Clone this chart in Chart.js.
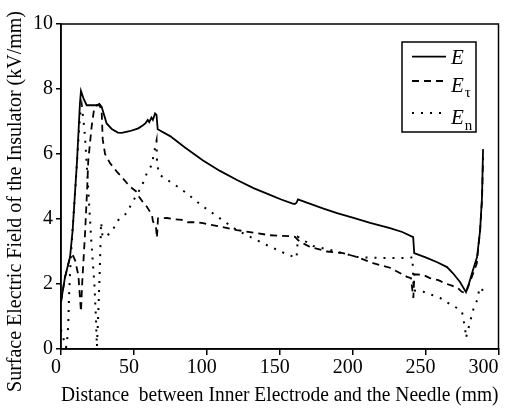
<!DOCTYPE html>
<html>
<head>
<meta charset="utf-8">
<script src="https://cdn.jsdelivr.net/npm/chart.js@4/dist/chart.umd.min.js"></script>
<style>
  html, body { margin: 0; padding: 0; background: #fff; }
  #wrap { width: 508px; height: 411px; position: relative; }
</style>
</head>
<body>
<div id="wrap"><canvas id="c"></canvas></div>
<script>
// ---- data ----
const seriesSymbols = ['E', 'E', 'E'];
const seriesSubs = ['', '\u03c4', 'n'];

const eX = [0, 2.7, 6.2, 8, 11, 13, 13.7, 15.5, 17.6, 21, 24.5, 26.3, 27.9, 31.3, 34.8, 39, 41.6, 47, 53, 56, 58, 59.5, 60.5, 62, 63, 64.5, 65.5, 66.3, 74.8, 85, 97.4, 109, 120.7, 132, 143.3, 151, 158.4, 160.3, 161.5, 162.5, 170, 180, 189.3, 200, 212, 225.6, 234, 241.5, 242.2, 244, 250, 258, 264.7, 268.8, 273.6, 277.7, 280, 282.5, 285.3, 287.4, 288.7, 289.4];
const eY = [1.45, 2.2, 2.83, 3.66, 5.8, 7.57, 7.94, 7.7, 7.5, 7.5, 7.5, 7.54, 7.45, 6.94, 6.77, 6.66, 6.65, 6.7, 6.79, 6.88, 6.95, 7.05, 6.98, 7.12, 7.05, 7.25, 7.2, 6.76, 6.55, 6.2, 5.8, 5.48, 5.2, 4.95, 4.74, 4.6, 4.48, 4.46, 4.5, 4.6, 4.48, 4.32, 4.18, 4.04, 3.88, 3.72, 3.6, 3.44, 2.95, 2.92, 2.82, 2.67, 2.52, 2.33, 2.06, 1.75, 2.05, 2.43, 2.83, 3.66, 4.68, 6.15];

const tX = [0, 2.7, 6.2, 8.4, 10, 10.8, 11.9, 12.3, 13.7, 14.5, 16.5, 18, 18.7, 21, 22.6, 24.5, 26.5, 27.9, 28.6, 30.2, 33.6, 38.4, 40.5, 45.3, 47.3, 52, 53.5, 56.2, 59, 62.4, 63, 65.2, 65.8, 66.5, 72.7, 76.8, 83, 87, 93.3, 97.4, 109, 120.7, 132, 143.3, 151, 159, 160.5, 162.5, 166, 170.8, 182.4, 193.4, 203, 214, 225.6, 237.3, 240, 241.6, 242.3, 248.5, 253, 258.8, 263.4, 268, 272, 274.8, 277.7, 281.7, 285.1, 286.2, 287.4, 288.7, 289.4];
const tY = [1.45, 2.2, 2.83, 2.86, 2.69, 2.49, 2.28, 2.03, 1.15, 2.0, 3.57, 5.0, 5.8, 6.84, 7.35, 7.5, 7.5, 7.3, 6.45, 6.0, 5.72, 5.45, 5.35, 5.1, 5.0, 4.83, 4.68, 4.52, 4.37, 4.12, 3.94, 3.72, 3.42, 4.02, 4.03, 4.0, 3.97, 3.9, 3.9, 3.87, 3.77, 3.66, 3.58, 3.5, 3.48, 3.47, 3.45, 3.35, 3.25, 3.14, 3.0, 2.95, 2.83, 2.64, 2.5, 2.22, 2.18, 1.57, 2.3, 2.28, 2.18, 2.12, 2.02, 1.95, 1.88, 1.76, 1.73, 2.22, 2.63, 3.15, 3.66, 4.6, 5.9];

const nX = [0, 1.5, 3.5, 4.5, 5, 5.5, 6.2, 7.3, 9.6, 13, 14.2, 15.5, 16.5, 18.7, 20.8, 22.9, 24, 24.6, 25.5, 26.5, 27.5, 28.5, 31.3, 34.8, 39.3, 45, 48.5, 55.3, 58.8, 62.2, 63.3, 65.5, 65.8, 66.7, 67.9, 73.6, 79.8, 86.2, 91.9, 97.6, 109, 120.5, 131, 141, 153.6, 159.3, 161.5, 162.5, 172.8, 184.5, 203, 218.8, 230, 239.4, 241, 241.8, 248.5, 260, 265.4, 271.6, 275, 275.7, 277, 277.7, 280.5, 282.6, 285.3, 286.7, 288.7, 289.4];
const nY = [0.6, 0.35, 0.05, 0.4, 0.79, 1.6, 2.33, 3.25, 4.79, 7.15, 7.5, 7.0, 6.5, 4.9, 3.3, 2.0, 0.9, 0.07, 1.0, 2.3, 3.9, 3.45, 3.48, 3.61, 3.97, 4.18, 4.48, 5.0, 5.4, 5.66, 5.92, 6.4, 5.8, 5.5, 5.35, 5.18, 5.0, 4.79, 4.58, 4.38, 4.02, 3.66, 3.42, 3.2, 2.94, 2.84, 2.8, 3.45, 3.17, 3.05, 2.83, 2.8, 2.8, 2.8, 2.83, 1.8, 1.76, 1.57, 1.42, 1.26, 1.14, 0.95, 0.68, 0.34, 0.83, 1.2, 1.5, 1.8, 1.9, 1.66];

const xTicks = [0, 50, 100, 150, 200, 250, 300];
const yTicks = [0, 2, 4, 6, 8, 10];
const xTitle = 'Distance  between Inner Electrode and the Needle (mm)';
const yTitle = 'Surface Electric Field of the Insulator (kV/mm)';

// ---- chart ----
const pts = (xs, ys) => xs.map((x, i) => ({ x: x, y: ys[i] }));
const serif = '"Liberation Serif", "Times New Roman", serif';
const NB = '\u00a0';

const framePlugin = {
  id: 'frame',
  afterDatasetsDraw(chart) {
    const { ctx, chartArea: a } = chart;
    ctx.save();
    ctx.strokeStyle = '#000';
    ctx.lineWidth = 1.5;
    ctx.strokeRect(a.left, a.top, a.right - a.left, a.bottom - a.top);
    ctx.restore();
  }
};

const legendPlugin = {
  id: 'customLegend',
  afterDraw(chart) {
    const { ctx, chartArea: a } = chart;
    const bx = a.right - 96.5, by = a.top + 18, bw = 74, bh = 90;
    ctx.save();
    ctx.fillStyle = '#fff';
    ctx.fillRect(bx, by, bw, bh);
    ctx.strokeStyle = '#000';
    ctx.fillStyle = '#000';
    ctx.lineWidth = 1.5;
    ctx.strokeRect(bx, by, bw, bh);
    const lineY = [14.7, 39, 71];
    const textY = [22, 49.7, 82];
    chart.data.datasets.forEach((ds, i) => {
      ctx.setLineDash(ds.borderDash || []);
      ctx.lineWidth = ds.borderWidth;
      ctx.beginPath();
      ctx.moveTo(bx + 10, by + lineY[i]);
      ctx.lineTo(bx + 44, by + lineY[i]);
      ctx.stroke();
      ctx.setLineDash([]);
      ctx.textBaseline = 'alphabetic';
      ctx.textAlign = 'left';
      ctx.font = 'italic 21px ' + serif;
      ctx.fillText(seriesSymbols[i], bx + 49, by + textY[i]);
      if (seriesSubs[i]) {
        const w = ctx.measureText(seriesSymbols[i]).width;
        ctx.font = '15px ' + serif;
        ctx.fillText(seriesSubs[i], bx + 49 + w + 1, by + textY[i] + 5.5);
      }
    });
    ctx.restore();
  }
};

new Chart(document.getElementById('c'), {
  type: 'line',
  data: {
    datasets: [
      { label: 'E', data: pts(eX, eY), borderColor: '#000', borderWidth: 1.8, borderDash: [], pointRadius: 0, tension: 0, fill: false },
      { label: 'E\u03c4', data: pts(tX, tY), borderColor: '#000', borderWidth: 1.8, borderDash: [7, 5], pointRadius: 0, tension: 0, fill: false },
      { label: 'En', data: pts(nX, nY), borderColor: '#000', borderWidth: 2, borderDash: [2, 7], pointRadius: 0, tension: 0, fill: false }
    ]
  },
  options: {
    responsive: true,
    maintainAspectRatio: false,
    animation: false,
    events: [],
    layout: { autoPadding: false, padding: { top: 24, right: 9.5, bottom: 0, left: 0 } },
    plugins: { legend: { display: false }, tooltip: { enabled: false } },
    scales: {
      x: {
        type: 'linear', min: 0, max: 300,
        afterFit(s) { s.height = 62; s.paddingLeft = 0; s.paddingRight = 0; },
        afterBuildTicks(s) { s.ticks = xTicks.map(v => ({ value: v })); },
        grid: { drawOnChartArea: false, drawTicks: true, tickLength: 6, color: '#000', lineWidth: 1.5 },
        border: { display: true, color: '#000', width: 1.5 },
        ticks: {
          color: '#000', font: { family: serif, size: 20 }, padding: 1, labelOffset: -5, maxRotation: 0,
          callback: (v) => v === 300 ? '300' + NB + NB + NB + NB : String(v)
        },
        title: { display: true, text: xTitle, color: '#000', font: { family: serif, size: 20.5 }, padding: { top: 0, bottom: 3 } }
      },
      y: {
        type: 'linear', min: 0, max: 10,
        afterFit(s) { s.width = 61; s.paddingTop = 0; s.paddingBottom = 0; },
        afterBuildTicks(s) { s.ticks = yTicks.map(v => ({ value: v })); },
        grid: { drawOnChartArea: false, drawTicks: true, tickLength: 5, color: '#000', lineWidth: 1.5 },
        border: { display: true, color: '#000', width: 1.5 },
        ticks: { color: '#000', font: { family: serif, size: 20 }, padding: 3 },
        title: { display: true, text: yTitle + NB + NB + NB + NB + NB + NB, color: '#000', font: { family: serif, size: 20 }, padding: { top: 4, bottom: 0 } }
      }
    }
  },
  plugins: [framePlugin, legendPlugin]
});
</script>
</body>
</html>
